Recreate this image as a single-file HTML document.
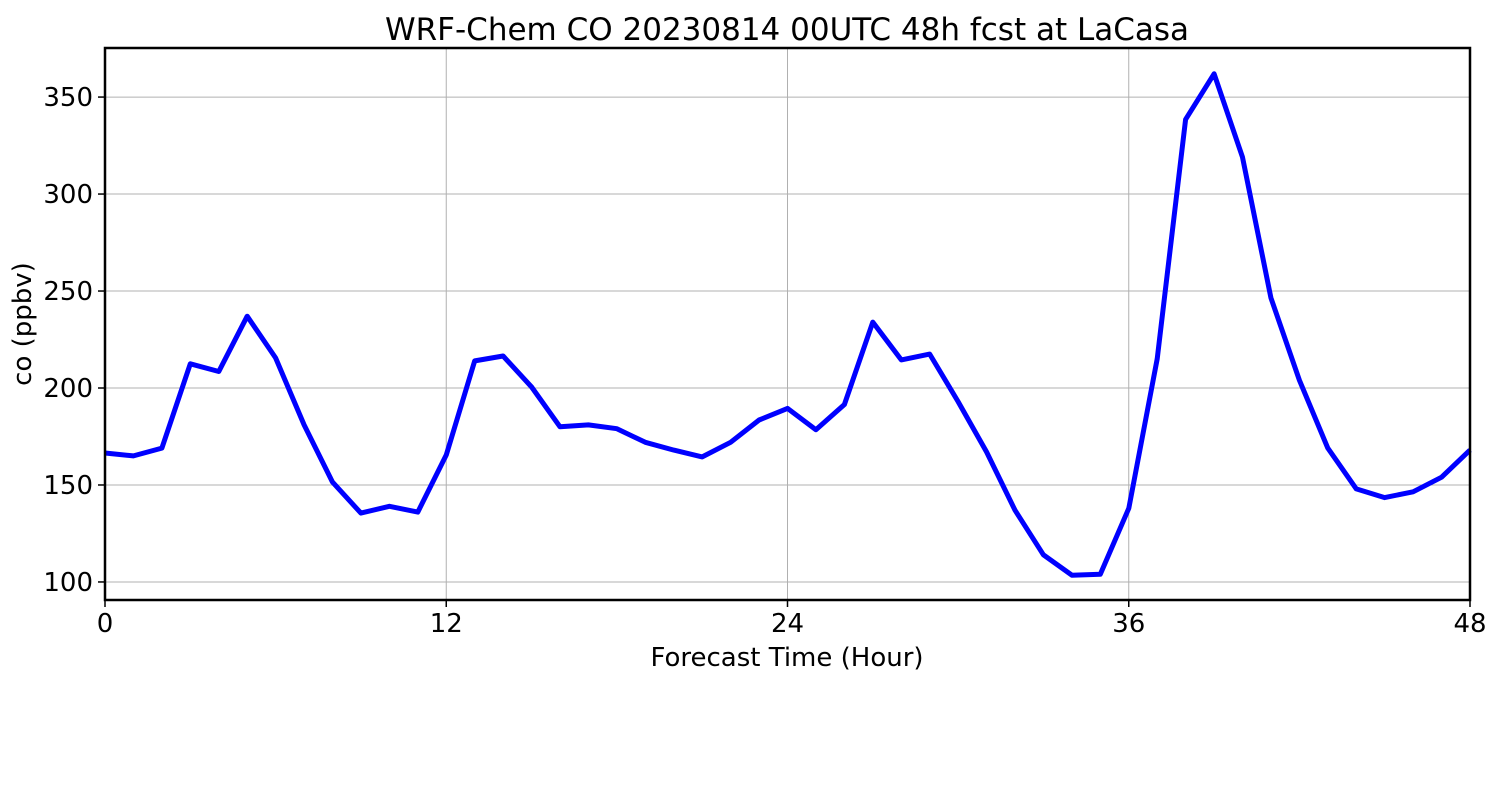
<!DOCTYPE html>
<html><head><meta charset="utf-8"><style>
body{margin:0;background:#fff;}
svg text{font-family:"DejaVu Sans","Liberation Sans",sans-serif;fill:#000;}
</style></head><body>
<svg id="chart" width="1500" height="800" xmlns="http://www.w3.org/2000/svg">
<rect width="1500" height="800" fill="#fff"/>
<text x="787" y="40" font-size="31" text-anchor="middle">WRF-Chem CO  20230814 00UTC 48h fcst at LaCasa</text>
<g id="grid"></g>
<g id="ticks"></g>
<path id="line" fill="none" stroke="#0000ff" stroke-width="5" stroke-linejoin="round"/>
<rect x="105" y="48" width="1365" height="552" fill="none" stroke="#000" stroke-width="2.5"/>
<text x="787" y="666" font-size="26" text-anchor="middle">Forecast Time (Hour)</text>
<text transform="translate(31,324) rotate(-90)" font-size="26" text-anchor="middle">co  (ppbv)</text>
</svg>
<script>
const hours=[0,1,2,3,4,5,6,7,8,9,10,11,12,13,14,15,16,17,18,19,20,21,22,23,24,25,26,27,28,29,30,31,32,33,34,35,36,37,38,39,40,41,42,43,44,45,46,47,48];
const coValues=[166.5,165,169,212.5,208.5,237,215.5,181,151.5,135.5,139,136,165.5,214,216.5,200.5,180,181,179,172,168,164.5,172,183.5,189.5,178.5,191.5,234,214.5,217.5,193,167,137,114,103.5,104,138,215,338.5,362,319,246.5,204,169,148,143.5,146.5,154,168];
const xTicks=[0,12,24,36,48];
const yTicks=[100,150,200,250,300,350];
const X0=105,X1=1470,Y0=600,Y1=48,xmin=0,xmax=48,ymin=90.7,ymax=375.3;
const sx=v=>X0+(v-xmin)/(xmax-xmin)*(X1-X0);
const sy=v=>Y0-(v-ymin)/(ymax-ymin)*(Y0-Y1);
const NS="http://www.w3.org/2000/svg";
const grid=document.getElementById('grid'),ticks=document.getElementById('ticks');
function mk(tag,attrs,parent){const e=document.createElementNS(NS,tag);for(const k in attrs)e.setAttribute(k,attrs[k]);parent.appendChild(e);return e;}
xTicks.forEach(t=>{const x=sx(t);
 const g=mk('line',{x1:x,x2:x,y1:Y1,y2:Y0,stroke:'#b0b0b0','stroke-width':1},grid);
 
 
 mk('line',{x1:x,x2:x,y1:Y0,y2:Y0+7,stroke:'#000','stroke-width':1.5},ticks);
 const tx=mk('text',{x:x,y:Y0+32,'font-size':26,'text-anchor':'middle'},ticks);tx.textContent=t;
 
 
});
yTicks.forEach(t=>{const y=sy(t);
 const g=mk('line',{x1:X0,x2:X1,y1:y,y2:y,stroke:'#b0b0b0','stroke-width':1},grid);
 
 
 mk('line',{x1:X0-7,x2:X0,y1:y,y2:y,stroke:'#000','stroke-width':1.5},ticks);
 const tx=mk('text',{x:X0-12,y:y+9,'font-size':26,'text-anchor':'end'},ticks);tx.textContent=t;
 
 
});
document.getElementById('line').setAttribute('d',hours.map((h,i)=>(i?'L':'M')+sx(h).toFixed(1)+','+sy(coValues[i]).toFixed(1)).join(''));
</script>
</body></html>
